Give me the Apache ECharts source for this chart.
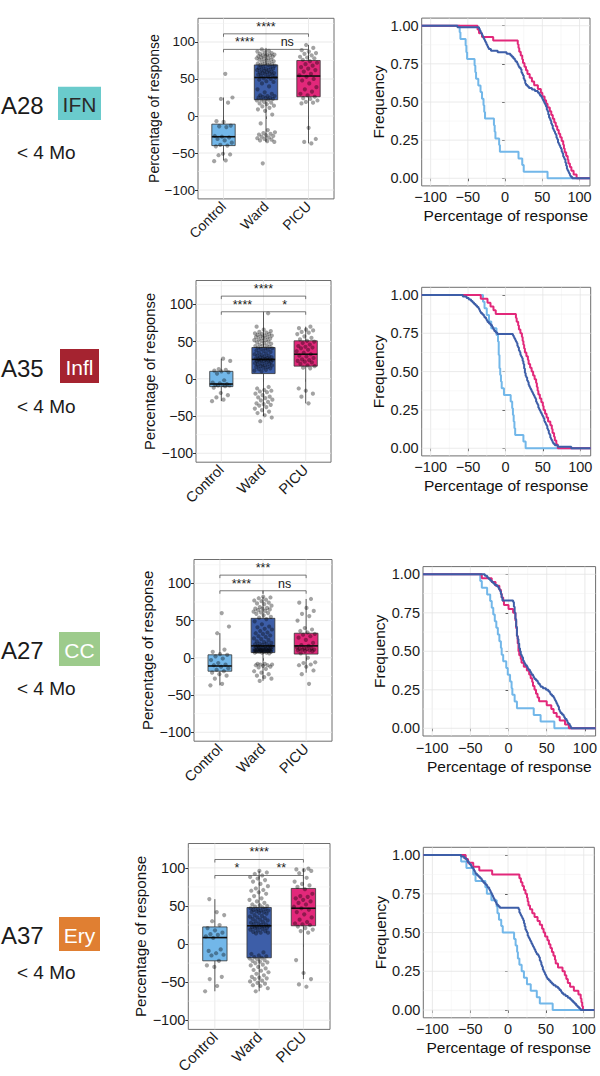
<!DOCTYPE html>
<html><head><meta charset="utf-8">
<script src="https://cdn.jsdelivr.net/npm/echarts@6/dist/echarts.min.js"></script>
<style>html,body{margin:0;padding:0;background:#fff}#c{width:600px;height:1076px}</style>
</head><body><div id="c"></div>
<script>
// ---------------- data ----------------
const categories = ['Control', 'Ward', 'PICU'];
const rowIds = ['A28', 'A35', 'A27', 'A37'];
const modules = ['IFN', 'Infl', 'CC', 'Ery'];
const ageLabel = '< 4 Mo';
const boxTicks = [-100, -50, 0, 50, 100];
const boxMinorTicks = [-75, -25, 25, 75, 125];
const ecdfXTicks = [-100, -50, 0, 50, 100];
const ecdfXMinorTicks = [-75, -25, 25, 75];
const ecdfYTicks = [0, 0.25, 0.5, 0.75, 1];
const ecdfYMinorTicks = [0.125, 0.375, 0.625, 0.875];
const bracketPairs = [[1, 3], [1, 2], [2, 3]];
const bracketY = [111, 90, 90];

// A28 IFN
const a28Control = [-61,-60,-53,-52,-51,-41,-40,-39,-36,-33,-31,-29,-28,-27,-15,-14,-13,-8,-7,18,23,25,57];
const a28Ward = [-64,-35,-34,-33,-32,-31,-30,-29,-28,-27,-26,-25,-24,-23,-22,-19,-10,2,7,9,11,13,14,16,17,18,19,21,22,22,23,24,25,25,26,27,27,28,30,32,36,40,44,46,47,49,50,51,52,53,54,55,56,56,57,58,58,59,59,60,61,62,62,63,64,64,65,66,67,68,69,69,70,71,71,72,73,74,75,76,76,77,78,78,79,80,81,81,82,82,83,83,84,85,86,87,88,90];
const a28Picu = [-37,-35,-31,-16,17,18,19,21,23,24,26,28,30,33,36,39,44,48,50,53,55,57,60,62,64,66,68,70,72,74,76,78,79,80,82,84,85,87,89,92,96];
const a28Box = [[-60,-40,-28,-11,25],[-35,22,52,69,92],[-37,26,54,75,96]];
const a28Sig = ['****','****','ns'];

// A35 Infl
const a35Control = [-30,-28,-25,-22,-19,-12,-10,-9,-9,-8,-8,-7,-6,-5,-2,7,9,10,11,12,13,24,27];
const a35Ward = [-57,-52,-49,-46,-44,-42,-40,-38,-36,-35,-34,-33,-31,-29,-28,-26,-25,-24,-22,-20,-18,-17,-16,-15,-13,-11,10,11,12,13,14,15,16,16,17,18,18,19,20,20,21,22,23,23,24,24,25,25,25,26,26,26,27,27,28,29,29,30,31,31,32,33,34,35,36,37,38,39,40,41,41,42,43,44,44,45,46,47,48,49,50,51,52,52,53,54,55,56,56,57,58,58,59,60,60,61,62,63,64,66,70,88];
const a35Picu = [-33,-24,-20,-16,-13,14,15,17,18,20,22,23,24,25,26,28,30,31,33,35,37,39,41,42,43,44,46,48,50,51,53,55,57,60,62,63,65,66,68,70];
const a35Box = [[-30,-10.5,-7,10,27],[-50,7,26,42,88],[-33,17,33,51,70]];
const a35Sig = ['****','****','*'];

// A27 CC
const a27Control = [-37,-35,-28,-24,-22,-20,-18,-16,-14,-12,-10,-9,-7,-3,-1,2,4,5,8,11,33,42,60];
const a27Ward = [-31,-28,-26,-24,-22,-20,-18,-15,-13,-12,-11,-10,-10,-9,-9,-8,-8,6,7,7,7,8,8,8,8,9,9,9,9,10,10,10,10,10,11,11,11,11,11,11,12,12,13,13,13,14,14,14,15,15,16,16,17,18,19,19,20,21,22,24,25,26,28,29,30,32,33,34,36,38,39,41,42,45,49,52,54,55,57,59,60,61,62,63,64,65,66,66,67,68,70,72,73,74,76,77,78,80,81,82];
const a27Picu = [-35,-22,-17,-12,-10,-9,-7,-6,0,6,9,9,10,10,11,11,12,12,13,13,14,16,17,20,24,27,29,31,32,34,36,38,40,50,56,59,63,67,74,79];
const a27Box = [[-37,-18,-11,4,33],[-31,7,16,53,82],[-20,5,16,33,79]];
const a27Sig = ['***','****','ns'];

// A37 Ery
const a37Control = [-62,-55,-46,-43,-30,-28,-22,-15,-14,-12,-9,-7,8,10,12,13,15,18,21,25,30,38,42,59];
const a37Ward = [-62,-58,-55,-54,-52,-51,-49,-48,-46,-45,-44,-43,-41,-39,-37,-35,-34,-32,-30,-28,-27,-25,-24,-23,-22,-21,-20,-19,-18,-17,-16,-15,-13,-11,14,15,15,16,17,18,19,20,21,21,22,22,23,23,24,25,26,26,27,28,29,30,31,32,33,34,35,36,37,38,40,41,42,42,43,44,44,45,46,46,47,48,49,50,51,52,54,56,58,60,63,66,68,70,71,73,76,79,82,84,86,88,90,92,94,96];
const a37Picu = [-56,-53,-46,-38,-21,15,17,19,21,23,25,26,27,29,32,35,39,42,45,47,49,52,54,56,58,60,62,63,66,72,75,77,79,82,87,93,96,97,98,99];
const a37Box = [[-62,-22,8.5,22.5,59],[-62,-18,24,48,96],[-46,24,47,73,99]];
const a37Sig = ['****','*','**'];

// ---------------- styles / layout ----------------
const FONT = "'Liberation Sans', Arial, Helvetica, sans-serif";
const groupColors = ['#72B7E9', '#3D5EA8', '#E2287A'];
const moduleColors = ['#6ACBCC', '#A52330', '#9DCB8C', '#E07F32'];
const moduleTextColors = ['#2a2a2a', '#ffffff', '#ffffff', '#ffffff'];
const BOX_Y = [-112, 132];
const BOX_X = [0.4, 3.6];
const ECDF_X = [-112, 114];
const ECDF_Y = [-0.05, 1.05];

const layout = [
  {box:{left:198,top:18.3,width:136,height:180.6}, ecdf:{left:421.7,top:18.1,width:168.3,height:167.8},
   lab:{idY:105,tagX:58,tagY:86.7,tagW:43,tagH:33.3,ageY:152}, boxGap:36, boxTitle:14, boxTick:13.5},
  {box:{left:196,top:280.5,width:135,height:181.7}, ecdf:{left:421.7,top:287.3,width:169,height:168.6},
   lab:{idY:368,tagX:60,tagY:349,tagW:39,tagH:34,ageY:406}, boxGap:39, boxTitle:14.8, boxTick:14},
  {box:{left:194,top:559.5,width:138,height:181.7}, ecdf:{left:423,top:566.6,width:178,height:169.4},
   lab:{idY:650,tagX:59,tagY:632,tagW:41,tagH:34,ageY:688}, boxGap:39, boxTitle:15, boxTick:14},
  {box:{left:188.3,top:843.5,width:141.7,height:189.1}, ecdf:{left:423.3,top:847.3,width:171,height:170.5},
   lab:{idY:935,tagX:59,tagY:917,tagW:41,tagH:34,ageY:972}, boxGap:40, boxTitle:15.2, boxTick:14.5}
];

const rows = [
  {values:[a28Control,a28Ward,a28Picu], box:a28Box, sig:a28Sig},
  {values:[a35Control,a35Ward,a35Picu], box:a35Box, sig:a35Sig},
  {values:[a27Control,a27Ward,a27Picu], box:a27Box, sig:a27Sig},
  {values:[a37Control,a37Ward,a37Picu], box:a37Box, sig:a37Sig}
];

const fmtNum = v => (v < 0 ? '\u2212' + Math.abs(v) : String(v));
const jitter = i => (((i * 0.61803398875) % 1) - 0.5) * 0.44;

function gridLineSeries(ax, xRef, yRef, vx, vxMinor, vy, vyMinor) {
  const data = [];
  vx.forEach(v => data.push([v, 0, 1]));
  vxMinor.forEach(v => data.push([v, 0, 0]));
  vy.forEach(v => data.push([v, 1, 1]));
  vyMinor.forEach(v => data.push([v, 1, 0]));
  return {
    type:'custom', xAxisIndex:ax, yAxisIndex:ax, z:1, silent:true, data,
    renderItem:(p, api) => {
      const v = api.value(0), dir = api.value(1), major = api.value(2);
      const cs = p.coordSys;
      const st = {stroke: major ? '#e4e4e4' : '#f1f1f1', lineWidth: major ? 0.8 : 0.5};
      if (dir === 0) {
        const x = api.coord([v, yRef])[0];
        return {type:'line', shape:{x1:x, y1:cs.y, x2:x, y2:cs.y + cs.height}, style:st};
      }
      const y = api.coord([xRef, v])[1];
      return {type:'line', shape:{x1:cs.x, y1:y, x2:cs.x + cs.width, y2:y}, style:st};
    }
  };
}

function renderBox(p, api) {
  const x = api.value(0), lo = api.value(1), q1 = api.value(2), med = api.value(3), q3 = api.value(4), hi = api.value(5);
  const ci = api.value(6);
  const hw = 0.275;
  const tl = api.coord([x - hw, q3]), br = api.coord([x + hw, q1]);
  const m1 = api.coord([x - hw, med]), m2 = api.coord([x + hw, med]);
  const pHi = api.coord([x, hi]), pQ3 = api.coord([x, q3]), pQ1 = api.coord([x, q1]), pLo = api.coord([x, lo]);
  const ls = {stroke:'#333', lineWidth:0.8};
  return {type:'group', children:[
    {type:'line', shape:{x1:pHi[0], y1:pHi[1], x2:pQ3[0], y2:pQ3[1]}, style:ls},
    {type:'line', shape:{x1:pQ1[0], y1:pQ1[1], x2:pLo[0], y2:pLo[1]}, style:ls},
    {type:'rect', shape:{x:tl[0], y:tl[1], width:br[0] - tl[0], height:br[1] - tl[1]}, style:{fill:groupColors[ci], stroke:'#333', lineWidth:0.8}},
    {type:'line', shape:{x1:m1[0], y1:m1[1], x2:m2[0], y2:m2[1]}, style:{stroke:'#111', lineWidth:1.6}}
  ]};
}

function survival(arr) {
  const s = arr.slice().sort((a, b) => a - b);
  const n = s.length;
  const d = [[ECDF_X[0], 1]];
  s.forEach((v, i) => d.push([v, 1 - (i + 1) / n]));
  d.push([ECDF_X[1], 0]);
  return d;
}

const option = {animation:false, backgroundColor:'#fff', textStyle:{fontFamily:FONT},
  grid:[], xAxis:[], yAxis:[], series:[], graphic:[]};

rows.forEach((row, r) => {
  const L = layout[r];
  // ---------- boxplot panel ----------
  const gb = option.grid.length;
  option.grid.push(Object.assign({show:true, borderColor:'#6e6e6e', borderWidth:1}, L.box));
  option.xAxis.push({gridIndex:gb, type:'value', min:BOX_X[0], max:BOX_X[1],
    axisLine:{show:false}, splitLine:{show:false},
    axisTick:{show:true, customValues:[1,2,3], length:3, lineStyle:{color:'#333'}},
    axisLabel:{customValues:[1,2,3], formatter:v => categories[Math.round(v) - 1], rotate:45,
      fontSize:L.boxTick + 0.5, color:'#1a1a1a', margin:5, fontFamily:FONT}});
  option.yAxis.push({gridIndex:gb, type:'value', min:BOX_Y[0], max:BOX_Y[1],
    axisLine:{show:false}, splitLine:{show:false},
    axisTick:{show:true, customValues:boxTicks, length:3, lineStyle:{color:'#333'}},
    axisLabel:{customValues:boxTicks, formatter:fmtNum, fontSize:L.boxTick, color:'#1a1a1a', margin:3, fontFamily:FONT},
    name:'Percentage of response', nameLocation:'middle', nameGap:L.boxGap,
    nameTextStyle:{fontSize:L.boxTitle, color:'#111', fontFamily:FONT}});
  option.series.push(gridLineSeries(gb, 1, 0, [1,2,3], [], boxTicks, boxMinorTicks));
  option.series.push({type:'custom', xAxisIndex:gb, yAxisIndex:gb, z:3, silent:true,
    data: row.box.map((b, i) => [i + 1].concat(b).concat([i])), renderItem:renderBox});
  const pts = [];
  row.values.forEach((arr, g) => arr.forEach((v, i) => pts.push([g + 1 + jitter(i + g * 7), v])));
  option.series.push({type:'scatter', xAxisIndex:gb, yAxisIndex:gb, z:4, silent:true,
    symbolSize:4.2, itemStyle:{color:'rgba(0,0,0,0.45)'}, data:pts});
  const sig = row.sig;
  option.series.push({type:'custom', xAxisIndex:gb, yAxisIndex:gb, z:5, silent:true,
    data: bracketPairs.map((pr, k) => [pr[0], bracketY[k], pr[1], k]),
    renderItem:(p, api) => {
      const x1 = api.value(0), y = api.value(1), x2 = api.value(2), k = api.value(3);
      const a = api.coord([x1, y]), b = api.coord([x2, y]), t = api.coord([x1, y - 4]);
      return {type:'group', children:[
        {type:'polyline', shape:{points:[[a[0], t[1]], a, b, [b[0], t[1]]]}, style:{stroke:'#555', lineWidth:0.8, fill:null}},
        {type:'text', x:(a[0] + b[0]) / 2, y:a[1] - 0.5, style:{text:sig[k], fontSize:12.5, fontFamily:FONT, fill:'#1a1a1a', align:'center', verticalAlign:'bottom'}}
      ]};
    }});

  // ---------- ECDF panel ----------
  const ge = option.grid.length;
  option.grid.push(Object.assign({show:true, borderColor:'#6e6e6e', borderWidth:1}, L.ecdf));
  option.xAxis.push({gridIndex:ge, type:'value', min:ECDF_X[0], max:ECDF_X[1],
    axisLine:{show:false}, splitLine:{show:false},
    axisTick:{show:true, customValues:ecdfXTicks, length:3, lineStyle:{color:'#333'}},
    axisLabel:{customValues:ecdfXTicks, formatter:fmtNum, fontSize:14.5, color:'#1a1a1a', margin:4, fontFamily:FONT},
    name:'Percentage of response', nameLocation:'middle', nameGap:22,
    nameTextStyle:{fontSize:15.5, color:'#111', fontFamily:FONT}});
  option.yAxis.push({gridIndex:ge, type:'value', min:ECDF_Y[0], max:ECDF_Y[1],
    axisLine:{show:false}, splitLine:{show:false},
    axisTick:{show:true, customValues:ecdfYTicks, length:3, lineStyle:{color:'#333'}},
    axisLabel:{customValues:ecdfYTicks, formatter:v => v.toFixed(2), fontSize:14.5, color:'#1a1a1a', margin:3, fontFamily:FONT},
    name:'Frequency', nameLocation:'middle', nameGap:33,
    nameTextStyle:{fontSize:15.5, color:'#111', fontFamily:FONT}});
  option.series.push(gridLineSeries(ge, 0, 0.5, ecdfXTicks, ecdfXMinorTicks, ecdfYTicks, ecdfYMinorTicks));
  [0, 2, 1].forEach(g => {
    option.series.push({type:'line', xAxisIndex:ge, yAxisIndex:ge, z:3, silent:true, step:'end',
      symbol:'none', showSymbol:false, lineStyle:{width:2, color:groupColors[g]},
      data:survival(row.values[g])});
  });

  // ---------- left labels ----------
  const lb = L.lab;
  option.graphic.push({type:'text', x:1, y:lb.idY, style:{text:rowIds[r], fontSize:24, fontFamily:FONT, fill:'#1a1a1a', verticalAlign:'middle'}});
  option.graphic.push({type:'rect', shape:{x:lb.tagX, y:lb.tagY, width:lb.tagW, height:lb.tagH}, style:{fill:moduleColors[r]}});
  option.graphic.push({type:'text', x:lb.tagX + lb.tagW / 2, y:lb.tagY + lb.tagH / 2 + 1,
    style:{text:modules[r], fontSize:21, fontFamily:FONT, fill:moduleTextColors[r], align:'center', verticalAlign:'middle'}});
  option.graphic.push({type:'text', x:17, y:lb.ageY, style:{text:ageLabel, fontSize:19, fontFamily:FONT, fill:'#1a1a1a', verticalAlign:'middle'}});
});

const chart = echarts.init(document.getElementById('c'), null, {renderer:'svg'});
chart.setOption(option);
</script>
</body></html>
